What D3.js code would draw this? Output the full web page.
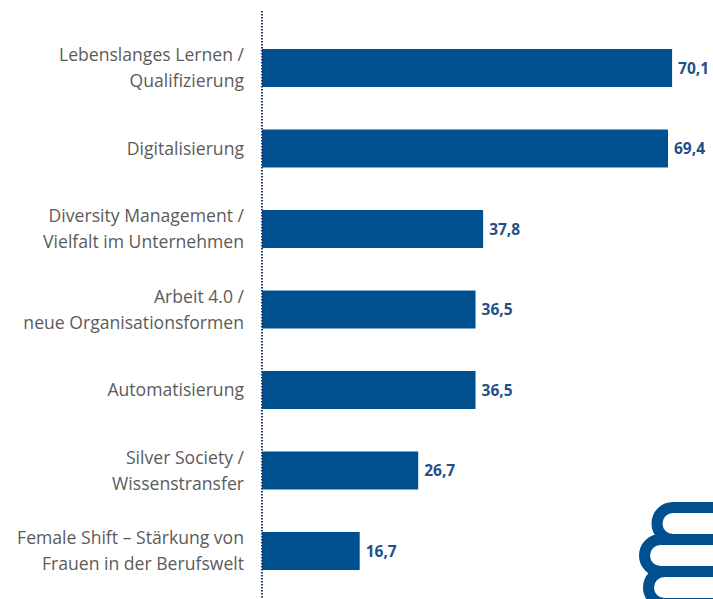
<!DOCTYPE html>
<html><head><meta charset="utf-8">
<script src="https://cdn.jsdelivr.net/npm/d3@7"></script>
<style>html,body{margin:0;padding:0;background:#fff;overflow:hidden}</style>
</head><body>
<svg id="c" width="713" height="599"></svg>
<script>
const categories = [
  ["Lebenslanges Lernen /", "Qualifizierung"],
  ["Digitalisierung"],
  ["Diversity Management /", "Vielfalt im Unternehmen"],
  ["Arbeit 4.0 /", "neue Organisationsformen"],
  ["Automatisierung"],
  ["Silver Society /", "Wissenstransfer"],
  ["Female Shift – Stärkung von", "Frauen in der Berufswelt"]
];
const values = [70.1, 69.4, 37.8, 36.5, 36.5, 26.7, 16.7];
const valueLabels = ["70,1", "69,4", "37,8", "36,5", "36,5", "26,7", "16,7"];

const svg = d3.select("#c");
const keys = categories.map((c, i) => i);
const y = d3.scaleBand().domain(keys).range([9, 610]).paddingInner(0.528).paddingOuter(0.497);
const x = d3.scaleLinear().domain([0, 100]).range([262, 847]);

const barColor = "#00508f";

svg.selectAll("rect.bar").data(values).join("rect")
  .attr("class", "bar")
  .attr("x", x(0))
  .attr("y", (d, i) => y(i))
  .attr("width", d => x(d) - x(0))
  .attr("height", y.bandwidth())
  .attr("fill", barColor);

svg.selectAll("text.val").data(values).join("text")
  .attr("class", "val")
  .attr("x", d => x(d) + 6)
  .attr("y", (d, i) => y(i) + y.bandwidth() / 2)
  .attr("dy", "0.36em")
  .attr("font-family", "Open Sans, sans-serif")
  .attr("font-weight", "bold")
  .attr("font-size", "15.5px")
  .attr("fill", "#1f5088")
  .text((d, i) => valueLabels[i]);

const lh = 26;
svg.selectAll("text.cat").data(categories).join("text")
  .attr("class", "cat")
  .attr("text-anchor", "end")
  .attr("font-family", "Open Sans, sans-serif")
  .attr("font-size", "17.6px")
  .attr("fill", "#5b5b5b")
  .each(function (lines, i) {
    const cy = y(i) + y.bandwidth() / 2;
    const t = d3.select(this);
    const n = lines.length;
    lines.forEach((ln, j) => {
      t.append("tspan")
        .attr("x", 244)
        .attr("y", cy + (j - (n - 1) / 2) * lh)
        .attr("dy", "0.36em")
        .text(ln);
    });
  });

svg.append("line")
  .attr("x1", 262).attr("x2", 262)
  .attr("y1", 11).attr("y2", 599)
  .attr("stroke", "#1e3b6b")
  .attr("stroke-width", 2)
  .attr("stroke-dasharray", "1.5,1.5");

const books = [
  {cx: 673, top: 507.5, bot: 539.5},
  {cx: 660.5, top: 539.5, bot: 571.5},
  {cx: 664.5, top: 571.5, bot: 603.5}
];
books.forEach(b => {
  const r = (b.bot - b.top) / 2;
  svg.append("path")
    .attr("d", `M720,${b.top} L${b.cx},${b.top} A${r},${r} 0 0 0 ${b.cx},${b.bot} L720,${b.bot}`)
    .attr("fill", "none")
    .attr("stroke", barColor)
    .attr("stroke-width", 11);
});
</script>
</body></html>
